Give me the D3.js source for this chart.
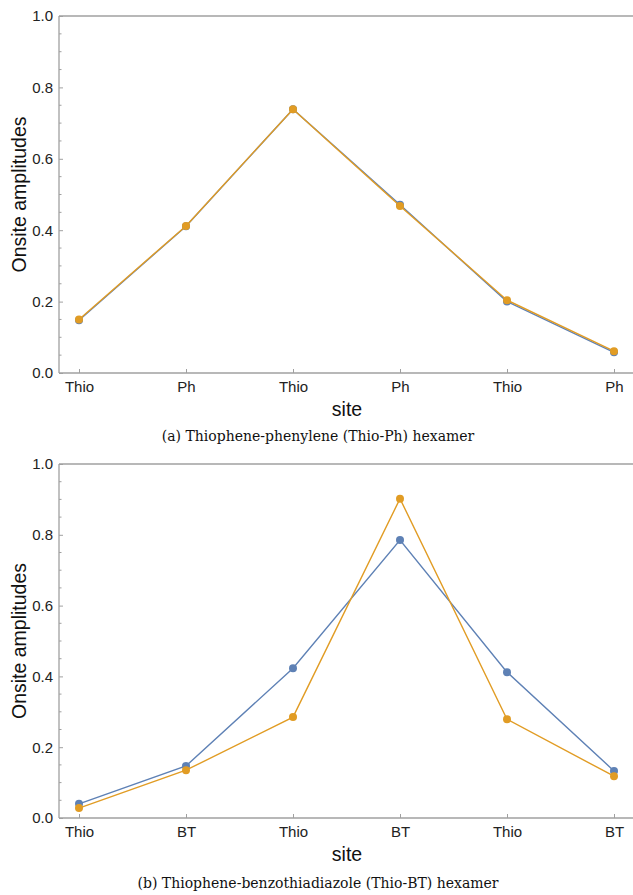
<!DOCTYPE html>
<html><head><meta charset="utf-8">
<script src="https://cdn.jsdelivr.net/npm/d3@7"></script>
<style>body{margin:0;background:#fff}svg{display:block}</style>
</head><body>
<script>
const sitesA = ["Thio","Ph","Thio","Ph","Thio","Ph"];
const blueA  = [0.148,0.411,0.739,0.471,0.200,0.058];
const orangeA= [0.150,0.412,0.739,0.468,0.204,0.061];
const sitesB = ["Thio","BT","Thio","BT","Thio","BT"];
const blueB  = [0.040,0.147,0.423,0.785,0.412,0.133];
const orangeB= [0.028,0.135,0.285,0.902,0.279,0.118];
const yTicks = [0,0.2,0.4,0.6,0.8,1.0];
const captions = ["(a) Thiophene-phenylene (Thio-Ph) hexamer","(b) Thiophene-benzothiadiazole (Thio-BT) hexamer"];

const W=633,H=895;
const svg=d3.select("body").append("svg").attr("width",W).attr("height",H);
const BLUE="#5E81B5", ORANGE="#E19C24", GRAY="#a0a0a0";

function panel(top,bottom,sites,series,caption,capY){
  const g=svg.append("g");
  const left=59,right=633;
  const x=d3.scaleLinear().domain([0,5]).range([79,614]);
  const y=d3.scaleLinear().domain([0,1]).range([bottom,top]);
  g.append("line").attr("x1",left).attr("x2",right).attr("y1",top).attr("y2",top).attr("stroke",GRAY).attr("stroke-width",1.3);
  g.append("line").attr("x1",left).attr("x2",right).attr("y1",bottom).attr("y2",bottom).attr("stroke",GRAY).attr("stroke-width",1.3);
  g.append("line").attr("x1",left).attr("x2",left).attr("y1",top).attr("y2",bottom).attr("stroke",GRAY).attr("stroke-width",1.3);
  const ya=g.append("g").attr("transform",`translate(${left},0)`)
    .call(d3.axisLeft(y).tickValues(yTicks).tickFormat(d3.format(".1f")).tickSize(-4).tickPadding(6));
  ya.select(".domain").remove();
  ya.selectAll("line").attr("stroke",GRAY);
  ya.selectAll("text").attr("font-family","Liberation Sans, Arial, sans-serif").attr("font-size",15).attr("fill","#222");
  const minor=d3.range(0,1.0001,0.05).filter(v=>Math.abs(v*5-Math.round(v*5))>1e-6);
  g.selectAll(".mn").data(minor).join("line").attr("x1",left).attr("x2",left+2.5)
    .attr("y1",d=>y(d)).attr("y2",d=>y(d)).attr("stroke",GRAY);
  const xa=g.append("g").attr("transform",`translate(0,${bottom})`)
    .call(d3.axisBottom(x).tickValues(d3.range(6)).tickFormat(i=>sites[i]).tickSize(-4).tickPadding(8));
  xa.select(".domain").remove();
  xa.selectAll("line").attr("stroke",GRAY);
  xa.selectAll("text").attr("font-family","Liberation Sans, Arial, sans-serif").attr("font-size",15).attr("fill","#222");
  g.append("text").attr("x",347).attr("y",bottom+43).attr("text-anchor","middle")
    .attr("font-family","Liberation Sans, Arial, sans-serif").attr("font-size",19.5).attr("fill","#111").text("site");
  g.append("text").attr("transform",`translate(26,${(top+bottom)/2}) rotate(-90)`).attr("text-anchor","middle")
    .attr("font-family","Liberation Sans, Arial, sans-serif").attr("font-size",19.5).attr("fill","#111").text("Onsite amplitudes");
  g.append("text").attr("x",318).attr("y",capY).attr("text-anchor","middle")
    .attr("font-family","DejaVu Serif, serif").attr("font-size",14).attr("fill","#111").text(caption);
  const line=d3.line().x((d,i)=>x(i)).y(d=>y(d));
  series.forEach(s=>{
    g.append("path").datum(s.v).attr("d",line).attr("fill","none").attr("stroke",s.c).attr("stroke-width",1.4);
    g.selectAll(null).data(s.v).join("circle").attr("cx",(d,i)=>x(i)).attr("cy",d=>y(d)).attr("r",4).attr("fill",s.c);
  });
}
panel(16,373,sitesA,[{v:blueA,c:BLUE},{v:orangeA,c:ORANGE}],captions[0],441);
panel(464,818,sitesB,[{v:blueB,c:BLUE},{v:orangeB,c:ORANGE}],captions[1],888);
</script>
</body></html>
